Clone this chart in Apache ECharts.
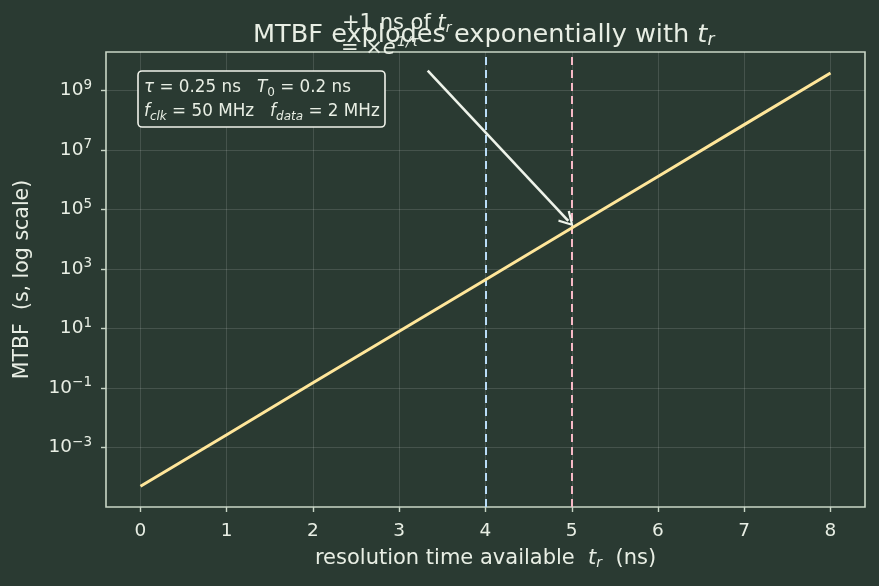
<!DOCTYPE html>
<html>
<head>
<meta charset="utf-8">
<script src="https://cdn.jsdelivr.net/npm/echarts@6/dist/echarts.min.js"></script>
<style>
  html, body { margin: 0; padding: 0; background: #2a3a32; }
  #chart { width: 879px; height: 586px; }
</style>
</head>
<body>
<div id="chart"></div>
<script>
// resolution time (ns) and MTBF (s)
const tr = [0, 1, 2, 3, 4, 5, 6, 7, 8]
const mtbf = [5e-5, 2.7e-3, 0.15, 8.1, 440, 2.4e4, 1.3e6, 7.2e7, 3.9e9]

const xTicks = [0, 1, 2, 3, 4, 5, 6, 7, 8]
const yTickExp = [-3, -1, 1, 3, 5, 7, 9]

const markX = [4, 5]
const arrowFrom = [3.33, 4.7e9]
const arrowTo = [4.96, 4.2e4]

const bg = '#2a3a32'
const fg = '#e8eee4'
const font = 'DejaVu Sans'

const lg = v => Math.log10(v)
const sup = n => String(n).replace('-', '\u2212')

const chart = echarts.init(document.getElementById('chart'))

const option = {
  backgroundColor: bg,
  textStyle: { fontFamily: font, color: fg },
  title: [
    {
      text: 'MTBF explodes exponentially with {i|t}{s|r}',
      left: 253,
      top: 22,
      padding: 0,
      textStyle: {
        color: fg, fontSize: 25.6, fontWeight: 'normal', fontFamily: font,
        rich: {
          i: { fontSize: 25.6, fontStyle: 'italic', color: fg, fontFamily: font },
          s: { fontSize: 17, fontStyle: 'italic', color: fg, fontFamily: font, padding: [10, 0, 0, 0] }
        }
      }
    },
    {
      text: '{i|\u03c4} = 0.25 ns   {i|T}{s|0} = 0.2 ns\n{i|f}{si|clk} = 50 MHz   {i|f}{si|data} = 2 MHz',
      left: 138,
      top: 71,
      padding: [5, 6, 3, 6],
      backgroundColor: bg,
      borderColor: '#f0f2ea',
      borderWidth: 1.6,
      borderRadius: 4,
      textStyle: {
        color: fg, fontSize: 16.8, fontWeight: 'normal', fontFamily: font, lineHeight: 24,
        rich: {
          i: { fontSize: 16.8, fontStyle: 'italic', color: fg, fontFamily: font, lineHeight: 24 },
          s: { fontSize: 12, color: fg, fontFamily: font, lineHeight: 24, padding: [9, 0, 0, 0] },
          si: { fontSize: 12, fontStyle: 'italic', color: fg, fontFamily: font, lineHeight: 24, padding: [9, 0, 0, 0] }
        }
      }
    }
  ],
  graphic: [
    {
      type: 'text',
      left: 342,
      top: 13,
      z: 100,
      style: {
        text: '+1 ns of {i|t}{s|r}',
        fill: fg,
        font: '21px "DejaVu Sans"',
        rich: {
          i: { fontSize: 21, fontStyle: 'italic', fontFamily: font },
          s: { fontSize: 14, fontStyle: 'italic', fontFamily: font, padding: [9, 0, 0, 0] }
        }
      }
    },
    {
      type: 'text',
      left: 341,
      top: 38,
      z: 100,
      style: {
        text: '= \u00d7{i|e}',
        fill: fg,
        font: '21px "DejaVu Sans"',
        rich: { i: { fontSize: 21, fontStyle: 'italic', fontFamily: font } }
      }
    },
    {
      type: 'text',
      left: 397,
      top: 35,
      z: 100,
      style: { text: '1/\u03c4', fill: fg, font: 'italic 14px "DejaVu Sans"' }
    }
  ],
  grid: {
    left: 106, right: 14, top: 52, bottom: 79,
    show: true,
    borderColor: '#c9d6c6',
    borderWidth: 1.6,
    backgroundColor: 'transparent'
  },
  xAxis: {
    type: 'value',
    min: -0.4,
    max: 8.4,
    name: 'resolution time available  {i|t}{s|r}  (ns)',
    nameLocation: 'middle',
    nameGap: 40,
    nameTextStyle: {
      color: fg, fontSize: 21, fontFamily: font,
      rich: {
        i: { fontSize: 21, fontStyle: 'italic', color: fg, fontFamily: font },
        s: { fontSize: 14, fontStyle: 'italic', color: fg, fontFamily: font, padding: [9, 0, 0, 0] }
      }
    },
    axisLine: { show: false, onZero: false },
    axisTick: { show: true, length: 5, customValues: xTicks, lineStyle: { color: '#c9d6c6', width: 1.4 } },
    axisLabel: { customValues: xTicks, color: fg, fontSize: 18.5, margin: 15, fontFamily: font },
    splitLine: { show: true, lineStyle: { color: 'rgba(255,255,255,0.13)', width: 1 } }
  },
  yAxis: {
    type: 'value',
    min: -5,
    max: 10.3,
    name: 'MTBF  (s, log scale)',
    nameLocation: 'middle',
    nameGap: 73,
    nameTextStyle: { color: fg, fontSize: 20.5, fontFamily: font },
    axisLine: { show: false, onZero: false },
    axisTick: { show: true, length: 5, customValues: yTickExp, lineStyle: { color: '#c9d6c6', width: 1.4 } },
    axisLabel: {
      customValues: yTickExp,
      margin: 14,
      formatter: v => '{b|10}{e|' + sup(Math.round(v)) + '}',
      rich: {
        b: { fontSize: 18.5, color: fg, fontFamily: font },
        e: { fontSize: 13.5, color: fg, fontFamily: font, padding: [0, 0, 11, 0] }
      }
    },
    splitLine: { show: true, lineStyle: { color: 'rgba(255,255,255,0.13)', width: 1 } }
  },
  series: [
    {
      type: 'line',
      data: tr.map((t, i) => [t, lg(mtbf[i])]),
      showSymbol: false,
      lineStyle: { color: '#ffe69a', width: 3 },
      z: 5,
      markLine: {
        silent: true,
        symbol: 'none',
        label: { show: false },
        data: [
          { xAxis: markX[0], lineStyle: { color: '#b9dcf7', type: [8, 5], width: 2 } },
          { xAxis: markX[1], lineStyle: { color: '#f6b9c6', type: [8, 5], width: 2 } }
        ]
      }
    },
    {
      type: 'line',
      data: [],
      markLine: {
        silent: true,
        symbol: ['none', 'path://M-6,10 L0,0 L6,10 L4.6,11 L0,3 L-4.6,11 Z'],
        symbolSize: [16, 15],
        label: { show: false },
        lineStyle: { color: '#eef3ea', width: 2.6, type: 'solid' },
        data: [[
          { coord: [arrowFrom[0], lg(arrowFrom[1])] },
          { coord: [arrowTo[0], lg(arrowTo[1])] }
        ]]
      },
      z: 10
    }
  ]
}

chart.setOption(option)
</script>
</body>
</html>
